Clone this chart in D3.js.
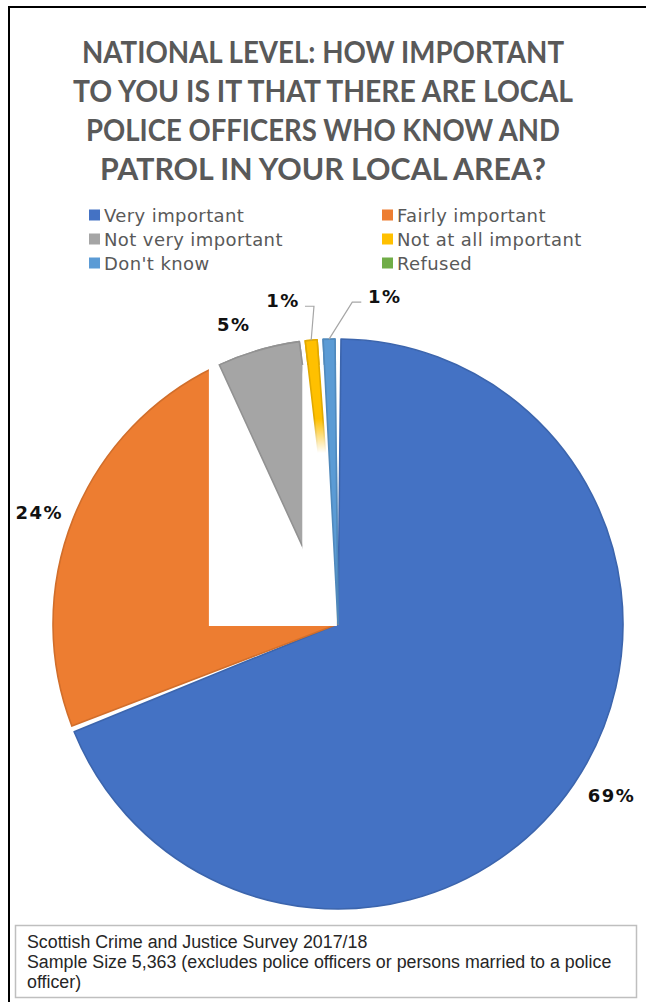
<!DOCTYPE html>
<html>
<head>
<meta charset="utf-8">
<script src="https://cdn.jsdelivr.net/npm/d3@7"></script>
<style>
  html, body { margin: 0; padding: 0; background: #fff; }
  svg { display: block; }
</style>
</head>
<body>
<svg id="chart" width="646" height="1002"></svg>
<script>
// ---- data ----
const categories = ["Very important", "Fairly important", "Not very important",
                    "Not at all important", "Don't know", "Refused"];
const values = [69, 24, 5, 1, 1, 0];
const colors = ["#4472C4", "#ED7D31", "#A5A5A5", "#FFC000", "#5B9BD5", "#70AD47"];
const titleLines = [
  "NATIONAL LEVEL: HOW IMPORTANT",
  "TO YOU IS IT THAT THERE ARE LOCAL",
  "POLICE OFFICERS WHO KNOW AND",
  "PATROL IN YOUR LOCAL AREA?"
];
const noteLines = [
  "Scottish Crime and Justice Survey 2017/18",
  "Sample Size 5,363 (excludes police officers or persons married to a police",
  "officer)"
];

// ---- layout ----
const W = 646, H = 1002;
const cx = 338, cy = 624, r = 285;
const titleWidths = [482, 500, 474, 446];
// label offsets (px) from the outer edge of each slice at its mid angle
const labelOffset = [[37, 11], [-34.5, -7], [-25.5, -25.5], [-29, -40], [55, -43]];
const leaderSlices = new Set([3, 4]);

const svg = d3.select("#chart");

// outer frame (left and top rules)
svg.append("path")
  .attr("d", `M9,${H} V7 H${W}`)
  .attr("fill", "none")
  .attr("stroke", "#000")
  .attr("stroke-width", 2);

// title
svg.append("g")
  .attr("font-family", "Lato, 'Open Sans', sans-serif")
  .attr("font-weight", 700)
  .attr("font-size", 30)
  .attr("fill", "#595959")
  .attr("text-anchor", "middle")
  .selectAll("text")
  .data(titleLines)
  .join("text")
  .attr("x", 323)
  .attr("y", (d, i) => 63 + i * 39)
  .attr("textLength", (d, i) => titleWidths[i])
  .attr("lengthAdjust", "spacingAndGlyphs")
  .text(d => d);

// legend: two columns, row-major
const legendX = [89, 382], legendY0 = 222, legendDy = 24, sw = 11;
const legend = svg.append("g")
  .attr("font-family", "'DejaVu Sans', Verdana, sans-serif")
  .attr("font-size", 18)
  .attr("letter-spacing", 0.4)
  .attr("fill", "#595959");
const items = legend.selectAll("g")
  .data(categories)
  .join("g")
  .attr("transform", (d, i) => `translate(${legendX[i % 2]},${legendY0 + Math.floor(i / 2) * legendDy})`);
items.append("rect")
  .attr("x", 0).attr("y", -12.5)
  .attr("width", sw).attr("height", sw)
  .attr("fill", (d, i) => colors[i]);
items.append("text")
  .attr("x", sw + 4)
  .text(d => d);

// pie
const pieData = d3.pie().sort(null).value(d => d)(values);
const arc = d3.arc().innerRadius(0).outerRadius(r).padAngle(6 / r);
const edge = d3.arc().innerRadius(r).outerRadius(r);
const plot = svg.append("g").attr("transform", `translate(${cx},${cy})`);
const defs = svg.append("defs");

function drawSlice(g, d) {
  g.append("path")
    .attr("d", arc(d))
    .attr("fill", colors[d.index])
    .attr("stroke", d3.color(colors[d.index]).darker(0.35))
    .attr("stroke-width", 1.6)
    .attr("stroke-linejoin", "round");
}

pieData.filter(d => d.value > 0).forEach(d => drawSlice(plot, d));

// knockout panel in the pie centre
plot.append("rect")
  .attr("x", -0.453 * r)
  .attr("y", -0.909 * r)
  .attr("width", 0.449 * r)
  .attr("height", 0.916 * r)
  .attr("fill", "#fff");

// small slices that sit over the panel
const grey = pieData[2];
const greyCut = r * Math.sin(grey.endAngle); // x of the slice's outer right corner
defs.append("clipPath").attr("id", "greyClip")
  .append("rect")
  .attr("x", -r - 10).attr("y", -r - 10)
  .attr("width", greyCut + r + 10).attr("height", 2 * r + 20);
drawSlice(plot.append("g").attr("clip-path", "url(#greyClip)"), grey);

const fade = defs.append("linearGradient").attr("id", "fadeGrad")
  .attr("gradientUnits", "userSpaceOnUse")
  .attr("x1", 0).attr("x2", 0)
  .attr("y1", -0.72 * r).attr("y2", -0.6 * r);
fade.append("stop").attr("offset", 0).attr("stop-color", "#fff");
fade.append("stop").attr("offset", 1).attr("stop-color", "#000");
defs.append("mask").attr("id", "fadeMask")
  .attr("maskUnits", "userSpaceOnUse")
  .attr("x", -r).attr("y", -r).attr("width", 2 * r).attr("height", 2 * r)
  .append("rect")
  .attr("x", -r).attr("y", -r).attr("width", 2 * r).attr("height", 2 * r)
  .attr("fill", "url(#fadeGrad)");
drawSlice(plot.append("g").attr("mask", "url(#fadeMask)"), pieData[3]);
drawSlice(plot, pieData[4]);

// data labels
const labels = plot.append("g")
  .attr("font-family", "'DejaVu Sans', Verdana, sans-serif")
  .attr("font-weight", 700)
  .attr("font-size", 18)
  .attr("letter-spacing", 1.5)
  .attr("fill", "#111")
  .attr("text-anchor", "middle");

pieData.filter(d => d.value > 0).forEach(d => {
  const [ex, ey] = edge.centroid(d);
  const [ox, oy] = labelOffset[d.index];
  const lx = ex + ox, ly = ey + oy;
  const t = labels.append("text")
    .attr("x", lx + 0.75)
    .attr("y", ly)
    .attr("dy", "0.36em")
    .text(`${d.value}%`);
  if (leaderSlices.has(d.index)) {
    const half = t.node().getComputedTextLength() / 2;
    const side = ox < 0 ? 1 : -1;           // leader leaves the label on the side facing the slice
    const endX = lx + side * (half + 6);
    const elbowX = endX + side * 9;
    const yLine = ly + 6;
    plot.append("path")
      .attr("d", `M${endX},${yLine} H${elbowX} L${ex},${ey}`)
      .attr("fill", "none")
      .attr("stroke", "#A6A6A6")
      .attr("stroke-width", 1.2);
  }
});

// source note
svg.append("rect")
  .attr("x", 15.5).attr("y", 925.5)
  .attr("width", 621).attr("height", 72)
  .attr("fill", "#fff")
  .attr("stroke", "#BFBFBF")
  .attr("stroke-width", 1.5);
const note = svg.append("g")
  .attr("font-family", "'Liberation Sans', Arial, sans-serif")
  .attr("font-size", 16)
  .attr("fill", "#262626");
const noteText = note.selectAll("text")
  .data(noteLines)
  .join("text")
  .attr("x", 27)
  .attr("y", (d, i) => 948 + i * 20)
  .text(d => d);
const wide = noteText.nodes()[1].getComputedTextLength();
note.attr("font-size", 16 * 585 / wide);
</script>
</body>
</html>
